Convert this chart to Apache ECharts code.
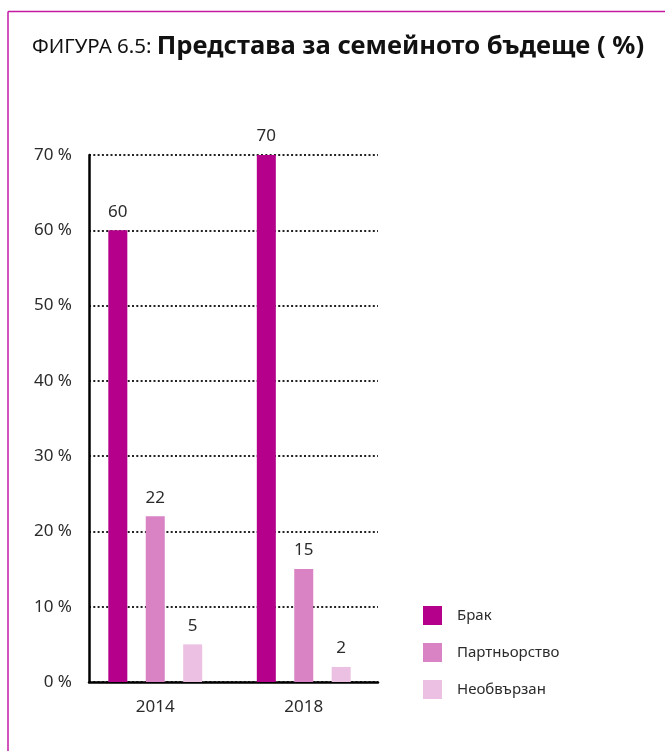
<!DOCTYPE html>
<html>
<head>
<meta charset="utf-8">
<script src="https://cdn.jsdelivr.net/npm/echarts@6/dist/echarts.min.js"></script>
<style>
html,body{margin:0;padding:0;background:#fff;}
#chart{width:665px;height:751px;}
</style>
</head>
<body>
<div id="chart"></div>
<script>
var categories = ['2014', '2018'];
var seriesNames = ['Брак', 'Партньорство', 'Необвързан'];
var brak = [60, 70];
var partnership = [22, 15];
var unattached = [5, 2];
var yTicks = [0, 10, 20, 30, 40, 50, 60, 70];
var colors = ['#b4008a', '#d982c4', '#ecc0e3'];

var chart = echarts.init(document.getElementById('chart'));
var font = '"Noto Sans", sans-serif';
var txt = '#2b2b2b';

function barSeries(name, data, color) {
  return {
    name: name, type: 'bar', xAxisIndex: 1, yAxisIndex: 1,
    data: data, barWidth: 19, barGap: '97%',
    itemStyle: { color: color },
    label: { show: true, position: 'top', distance: 10, fontFamily: font, fontSize: 17, color: txt }
  };
}

chart.setOption({
  animation: false,
  backgroundColor: '#fff',
  textStyle: { fontFamily: font },
  title: {
    left: 27, top: 29,
    text: '{a|ФИГУРА 6.5: }{b|Представа за семейното бъдеще ( %)}',
    textStyle: {
      rich: {
        a: { fontFamily: font, fontSize: 20.5, color: '#111', fontWeight: 'normal' },
        b: { fontFamily: font, fontSize: 25.6, color: '#111', fontWeight: 'bold' }
      }
    }
  },
  graphic: [
    { type: 'line', shape: { x1: 8, y1: 11.5, x2: 665, y2: 11.5 }, style: { stroke: '#c21aa5', lineWidth: 1.5 } },
    { type: 'line', shape: { x1: 8, y1: 11.5, x2: 8, y2: 751 }, style: { stroke: '#c21aa5', lineWidth: 1.5 } }
  ],
  legend: {
    orient: 'vertical', left: 423, top: 606, padding: 0,
    itemWidth: 19, itemHeight: 19, itemGap: 18, icon: 'rect',
    data: seriesNames,
    textStyle: { fontFamily: font, fontSize: 15, color: txt, padding: [0, 0, 0, 10] }
  },
  grid: [
    { left: 89, right: 287, top: 155, bottom: 69 },
    { left: 81, right: 287, top: 155, bottom: 69 }
  ],
  xAxis: [
    { gridIndex: 0, type: 'value', min: 0, max: 1,
      axisLine: { show: true, onZero: false, lineStyle: { color: '#000', width: 2.5 } },
      axisTick: { show: false }, axisLabel: { show: false }, splitLine: { show: false } },
    { gridIndex: 1, type: 'category', data: categories,
      axisLine: { show: false }, axisTick: { show: false },
      axisLabel: { fontFamily: font, fontSize: 17, color: txt, margin: 17 } }
  ],
  yAxis: [
    { gridIndex: 0, type: 'value', min: yTicks[0], max: yTicks[yTicks.length - 1], interval: 10,
      axisLine: { show: true, lineStyle: { color: '#000', width: 2.5 } },
      axisTick: { show: false },
      axisLabel: { fontFamily: font, fontSize: 17, color: txt, margin: 17, formatter: '{value} %' },
      splitLine: { show: true, lineStyle: { color: '#222', width: 2, type: [2, 2.3] } } },
    { gridIndex: 1, type: 'value', min: yTicks[0], max: yTicks[yTicks.length - 1], show: false }
  ],
  series: [
    barSeries(seriesNames[0], brak, colors[0]),
    barSeries(seriesNames[1], partnership, colors[1]),
    barSeries(seriesNames[2], unattached, colors[2])
  ]
});
</script>
</body>
</html>
